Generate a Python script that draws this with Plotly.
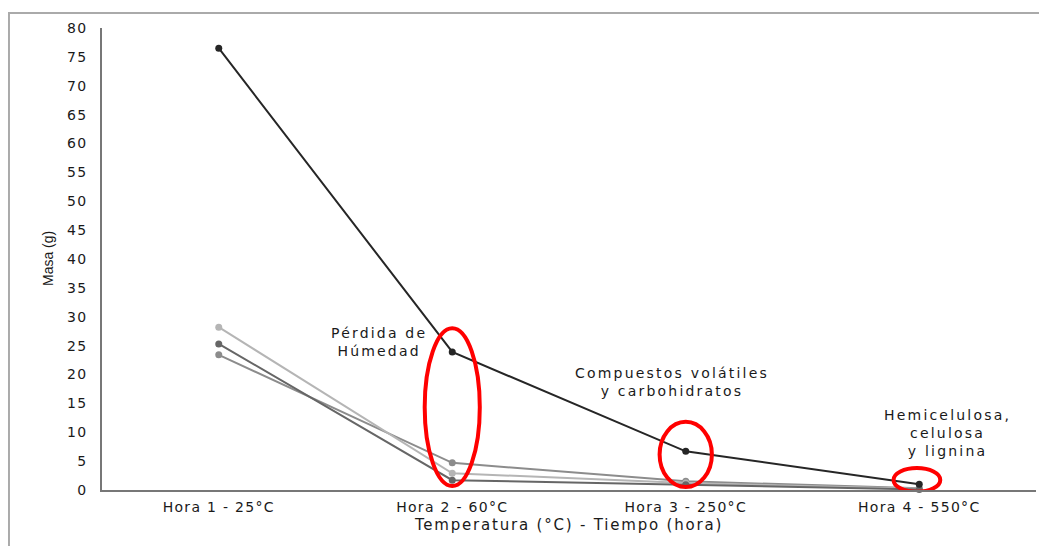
import plotly.graph_objects as go

categorias = ["Hora 1 - 25°C", "Hora 2 - 60°C", "Hora 3 - 250°C", "Hora 4 - 550°C"]
serie_negra = [76.5, 23.9, 6.7, 1.0]
serie_gris_claro = [28.2, 2.9, 1.2, 0.2]
serie_gris_oscuro = [25.3, 1.7, 0.9, 0.1]
serie_gris_medio = [23.4, 4.7, 1.5, 0.3]
y_ticks = list(range(0, 85, 5))

FONT = "DejaVu Sans, sans-serif"
FONT_NARROW = "Liberation Sans, Arial, sans-serif"
TXT = "#1a1a1a"


def esp(t, px):
    return f'<span style="letter-spacing:{px}px">{t}</span>'


fig = go.Figure()
series = [
    (serie_gris_medio, "#8c8c8c"),
    (serie_gris_claro, "#b5b5b5"),
    (serie_gris_oscuro, "#666666"),
    (serie_negra, "#262626"),
]
for vals, col in series:
    fig.add_trace(go.Scatter(
        x=categorias, y=vals, mode="lines+markers",
        line=dict(color=col, width=2),
        marker=dict(color=col, size=7),
        showlegend=False, cliponaxis=False,
    ))

# red ellipses
elipses = [
    (1 - 0.118, 1 + 0.118, 0.7, 28.0),
    (2 - 0.112, 2 + 0.112, 0.5, 11.8),
    (3 - 0.11, 3 + 0.09, -0.3, 3.8),
]
for x0, x1, y0, y1 in elipses:
    fig.add_shape(type="circle", xref="x", yref="y", x0=x0, x1=x1, y0=y0, y1=y1,
                  line=dict(color="#ff0000", width=4), layer="above")

# frame (only top and left edges visible)
fig.add_shape(type="rect", xref="paper", yref="paper", x0=-0.0996, x1=1.2,
              y0=-0.5, y1=1.0325, line=dict(color="#aaaaaa", width=2))

ann_font = dict(family=FONT, size=14, color=TXT)
fig.add_annotation(x=0.688, y=22.3, xref="x", yref="y", text=esp("Pérdida de<br>Húmedad", 2.2),
                   showarrow=False, font=ann_font, align="center", yanchor="bottom")
fig.add_annotation(x=1.941, y=15.4, xref="x", yref="y",
                   text=esp("Compuestos volátiles<br>y carbohidratos", 2.2),
                   showarrow=False, font=ann_font, align="center", yanchor="bottom")
fig.add_annotation(x=3.123, y=5.0, xref="x", yref="y",
                   text=esp("Hemicelulosa,<br>celulosa<br>y lignina", 2.2),
                   showarrow=False, font=ann_font, align="center", yanchor="bottom")

fig.add_annotation(x=(40 - 94) / 934, y=0.5, xref="paper", yref="paper", text="Masa (g)",
                   textangle=-90, showarrow=False, xanchor="center", yanchor="middle",
                   font=dict(family=FONT_NARROW, size=14, color=TXT))

fig.update_layout(
    width=1039, height=538,
    margin=dict(l=94, r=11, t=20, b=56),
    paper_bgcolor="white", plot_bgcolor="white",
    font=dict(family=FONT, size=14, color=TXT),
    xaxis=dict(
        type="category", range=[-0.5, 3.5], showgrid=False, zeroline=False,
        showline=True, linecolor="#777777", linewidth=2, ticks="",
        tickvals=categorias, ticktext=[esp(c, 1.3) for c in categorias],
        tickfont=dict(family=FONT, size=14, color=TXT),
        ticklabelstandoff=3,
        title=dict(text=esp("Temperatura (°C) - Tiempo (hora)", 1.8), standoff=6,
                   font=dict(family=FONT, size=15, color=TXT)),
    ),
    yaxis=dict(
        range=[0, 80], tickvals=y_ticks, ticktext=[esp(v, 1.3) for v in y_ticks],
        showgrid=False, zeroline=False,
        showline=True, linecolor="#777777", linewidth=1.5, ticks="",
        tickfont=dict(family=FONT, size=14, color=TXT),
        ticklabelstandoff=10,
    ),
)

fig.write_html("out.html")
